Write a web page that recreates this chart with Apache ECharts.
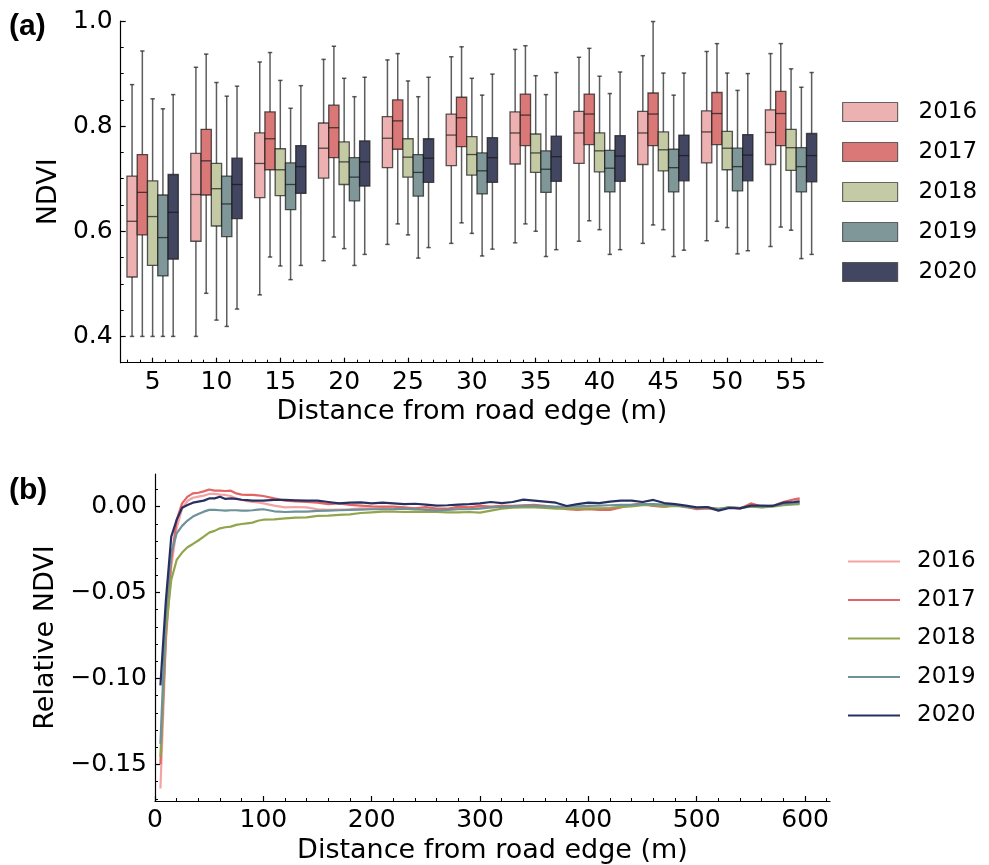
<!DOCTYPE html>
<html>
<head>
<meta charset="utf-8">
<script src="https://cdn.jsdelivr.net/npm/echarts@6.0.0/dist/echarts.min.js"></script>
<style>html,body{margin:0;padding:0;background:#fff;}#c{width:989px;height:865px;}</style>
</head>
<body>
<div id="c"></div>
<script>
// ---------- Panel (a) data ----------
const years = ['2016', '2017', '2018', '2019', '2020'];
const distCats = ['5', '10', '15', '20', '25', '30', '35', '40', '45', '50', '55'];
// each entry: [whisker low, Q1, median, Q3, whisker high]
const box2016 = [[0.40,0.513,0.619,0.705,0.879],[0.40,0.581,0.670,0.748,0.912],[0.479,0.664,0.729,0.787,0.922],[0.544,0.701,0.758,0.806,0.927],[0.575,0.721,0.777,0.818,0.926],[0.577,0.725,0.783,0.823,0.932],[0.578,0.728,0.787,0.827,0.946],[0.581,0.729,0.787,0.828,0.931],[0.577,0.727,0.787,0.828,0.934],[0.582,0.730,0.789,0.829,0.942],[0.571,0.727,0.788,0.831,0.938]];
const box2017 = [[0.40,0.593,0.674,0.746,0.943],[0.482,0.669,0.734,0.794,0.937],[0.551,0.717,0.776,0.827,0.940],[0.589,0.740,0.797,0.840,0.952],[0.614,0.756,0.810,0.850,0.938],[0.616,0.761,0.816,0.855,0.951],[0.614,0.763,0.821,0.861,0.953],[0.620,0.765,0.823,0.861,0.948],[0.612,0.763,0.823,0.863,0.999],[0.619,0.765,0.824,0.864,0.957],[0.608,0.763,0.824,0.866,0.957]];
const box2018 = [[0.40,0.535,0.628,0.696,0.852],[0.431,0.610,0.681,0.729,0.883],[0.534,0.668,0.717,0.757,0.887],[0.567,0.689,0.732,0.770,0.891],[0.593,0.703,0.741,0.776,0.886],[0.596,0.707,0.746,0.780,0.891],[0.600,0.712,0.749,0.785,0.896],[0.603,0.713,0.753,0.787,0.895],[0.603,0.715,0.755,0.789,0.901],[0.607,0.717,0.758,0.790,0.901],[0.602,0.716,0.759,0.794,0.909]];
const box2019 = [[0.40,0.515,0.588,0.669,0.833],[0.419,0.590,0.652,0.705,0.857],[0.508,0.641,0.689,0.730,0.834],[0.535,0.658,0.703,0.740,0.856],[0.549,0.667,0.712,0.746,0.856],[0.553,0.671,0.715,0.749,0.859],[0.552,0.674,0.718,0.753,0.860],[0.556,0.675,0.720,0.754,0.862],[0.552,0.675,0.721,0.756,0.859],[0.557,0.677,0.723,0.758,0.868],[0.548,0.675,0.723,0.759,0.874]];
const box2020 = [[0.40,0.547,0.636,0.708,0.860],[0.452,0.624,0.689,0.739,0.876],[0.535,0.672,0.723,0.763,0.877],[0.556,0.686,0.732,0.772,0.893],[0.569,0.693,0.739,0.776,0.893],[0.566,0.693,0.740,0.778,0.899],[0.565,0.695,0.742,0.781,0.902],[0.565,0.695,0.743,0.782,0.903],[0.564,0.696,0.744,0.783,0.901],[0.563,0.696,0.745,0.784,0.900],[0.556,0.694,0.744,0.786,0.902]];
const topYTicks = [0.4, 0.6, 0.8, 1.0];

// ---------- Panel (b) data ----------
const distances = [5,10,15,20,25,30,35,40,45,50,55,60,65,70,75,80,85,90,95,100,
  110,120,130,140,150,160,170,180,190,200,210,220,230,240,250,260,270,
  280,290,300,310,320,330,340,350,360,370,380,390,400,410,420,430,440,
  450,460,470,480,490,500,510,520,530,540,550,560,570,580,590,595];
const rel2016 = [-0.164,-0.079,-0.035,-0.0126,-0.001,0.0033,0.0052,0.0058,0.0064,0.0074,0.0074,0.007,0.0068,0.0062,0.0048,0.0039,0.0032,0.0028,0.0024,0.0019,
  0.0006,-0.0004,-0.0002,-0.0004,-0.0015,-0.0019,-0.0017,-0.0015,-0.001,-0.0012,-0.0008,-0.0012,-0.0015,-0.001,-0.0012,-0.0015,-0.0017,
  -0.001,-0.0008,0,-0.0004,0,0.0002,0.0004,0.0004,0,-0.0004,-0.0012,-0.001,-0.0008,-0.0012,-0.0008,0,0.0008,
  0.0015,0.0004,0,0.0008,-0.0004,-0.0012,-0.0008,-0.0015,-0.0004,-0.0008,0.0012,-0.0004,0.0004,0.0027,0.0039,0.0043];
const rel2017 = [-0.150,-0.076,-0.031,-0.0077,0.0019,0.0058,0.0077,0.0081,0.0089,0.0100,0.0093,0.0093,0.0091,0.0093,0.0077,0.007,0.0068,0.0068,0.0066,0.0062,
  0.0048,0.0035,0.0031,0.0027,0.0023,0.0015,0.0019,0.001,0.0006,0.0002,0,0,-0.0004,-0.001,-0.0002,-0.0012,-0.0012,
  0,-0.0004,0.0004,0,0.0004,0.0004,0.0008,0.001,0.0004,-0.0004,-0.0015,-0.0019,-0.0015,-0.0019,-0.0019,-0.0004,0.001,
  0.0019,0.0004,0,0.001,0,-0.0015,-0.001,-0.0019,-0.0004,-0.0012,0.0019,0,0.0004,0.0027,0.0043,0.0048];
const rel2018 = [-0.1456,-0.072,-0.0426,-0.031,-0.0267,-0.0236,-0.0217,-0.0197,-0.0174,-0.0151,-0.0141,-0.0126,-0.012,-0.0116,-0.0106,-0.0101,-0.0097,-0.0093,-0.0082,-0.0076,
  -0.0074,-0.0068,-0.0064,-0.0062,-0.0054,-0.0052,-0.0048,-0.0045,-0.0037,-0.0033,-0.0029,-0.0029,-0.0031,-0.0029,-0.0031,-0.0031,-0.0033,
  -0.0033,-0.0031,-0.0035,-0.0023,-0.0012,-0.0006,-0.0004,-0.0004,-0.0008,-0.0012,-0.0012,-0.0012,-0.0012,-0.001,-0.0008,-0.0002,0.0002,
  0.0008,0.0008,0,0.0004,0,-0.0008,-0.0006,-0.0012,-0.0004,-0.0008,0,-0.0004,0,0.0008,0.0013,0.0015];
const rel2019 = [-0.138,-0.062,-0.027,-0.0155,-0.0112,-0.0081,-0.0058,-0.0043,-0.0029,-0.0019,-0.0019,-0.0021,-0.0023,-0.0021,-0.0021,-0.0023,-0.0023,-0.0021,-0.0017,-0.0015,
  -0.0027,-0.0031,-0.0029,-0.0029,-0.0025,-0.0023,-0.0021,-0.0019,-0.0017,-0.0015,-0.0015,-0.0014,-0.0012,-0.0015,-0.0019,-0.0023,-0.0019,
  -0.0015,-0.0015,-0.0012,-0.0004,-0.0002,0.0002,0.0004,0.0004,0.0002,0,0,0.0002,0.0004,0.0006,0.0008,0.001,0.001,
  0.0015,0.0015,0.0012,0.0008,0,-0.0008,-0.0006,-0.0015,-0.0004,-0.0008,0.0004,0,0.0004,0.0015,0.0019,0.0023];
const rel2020 = [-0.104,-0.055,-0.0174,-0.0077,-0.0006,0.001,0.0023,0.0029,0.0035,0.0048,0.0048,0.0058,0.0045,0.0048,0.0045,0.004,0.0038,0.0035,0.0035,0.0035,
  0.0039,0.0039,0.0037,0.0035,0.0035,0.0027,0.0019,0.0023,0.0025,0.0019,0.0023,0.0019,0.0015,0.0017,0.0012,0.0006,0.0008,
  0.0012,0.0015,0.0019,0.0027,0.0021,0.0027,0.0041,0.0035,0.0029,0.0023,0.0004,0.0015,0.0023,0.0021,0.0029,0.0035,0.0035,
  0.0027,0.0039,0.0021,0.0015,0.0006,-0.0004,-0.0002,-0.0023,-0.0008,-0.001,0.0006,0.0006,0.0004,0.0023,0.0027,0.0031];
const bottomXTicks = [0, 100, 200, 300, 400, 500, 600];
const bottomYTicks = [-0.15, -0.10, -0.05, 0.00];

// ---------- styling ----------
const boxFill = ['#EDB1B1', '#DA7878', '#C3CAA4', '#7F9798', '#434661'];
const lineColor = ['#F3A3A3', '#E36464', '#91A64C', '#6D9299', '#283060'];
const FONT = 'DejaVu Sans';
const boxSets = [box2016, box2017, box2018, box2019, box2020];
const relSets = [rel2016, rel2017, rel2018, rel2019, rel2020];
// minor tick positions (1 m) on the top axis, 3..57
const minorCats = [];
for (let m = 3; m <= 57; m++) minorCats.push(String(m));

function boxRenderer(si) {
  return function (params, api) {
    const ci = api.value(0);
    const band = api.size([1, 0])[0];
    const w = band * 0.161;
    const cx = api.coord([ci, api.value(3)])[0] + (si - 2) * w;
    const yLo = api.coord([ci, api.value(1)])[1];
    const yQ1 = api.coord([ci, api.value(2)])[1];
    const yMd = api.coord([ci, api.value(3)])[1];
    const yQ3 = api.coord([ci, api.value(4)])[1];
    const yHi = api.coord([ci, api.value(5)])[1];
    const wk = {stroke: 'rgba(30,30,30,0.72)', lineWidth: 1.5};
    const bd = 'rgba(20,20,20,0.7)';
    const cap = 2.2;
    return {
      type: 'group',
      children: [
        {type: 'line', shape: {x1: cx, y1: yLo, x2: cx, y2: yQ1}, style: wk},
        {type: 'line', shape: {x1: cx, y1: yQ3, x2: cx, y2: yHi}, style: wk},
        {type: 'line', shape: {x1: cx - cap, y1: yLo, x2: cx + cap, y2: yLo}, style: wk},
        {type: 'line', shape: {x1: cx - cap, y1: yHi, x2: cx + cap, y2: yHi}, style: wk},
        {type: 'rect', shape: {x: cx - w / 2, y: yQ3, width: w, height: yQ1 - yQ3},
          style: {fill: boxFill[si], stroke: bd, lineWidth: 1.3}},
        {type: 'line', shape: {x1: cx - w / 2, y1: yMd, x2: cx + w / 2, y2: yMd},
          style: {stroke: bd, lineWidth: 1.3}}
      ]
    };
  };
}

const series = [];
years.forEach(function (y, si) {
  series.push({
    name: 'a' + y,
    type: 'custom',
    xAxisIndex: 0, yAxisIndex: 0,
    itemStyle: {color: boxFill[si]},
    renderItem: boxRenderer(si),
    encode: {x: 0, y: [1, 2, 3, 4, 5]},
    data: boxSets[si].map(function (b, i) { return [i].concat(b); }),
    z: 3
  });
});
years.forEach(function (y, si) {
  series.push({
    name: 'b' + y,
    type: 'line',
    xAxisIndex: 2, yAxisIndex: 1,
    symbol: 'none',
    color: lineColor[si],
    lineStyle: {width: 2.2, color: lineColor[si]},
    data: distances.map(function (d, i) { return [d, relSets[si][i]]; }),
    z: 3 + si
  });
});

const axisLine = {show: true, onZero: false, lineStyle: {color: '#000', width: 1.2}};
const fmtMinus = function (v) { return (v < -1e-9 ? '\u2212' : '') + Math.abs(v).toFixed(2); };

const option = {
  animation: false,
  backgroundColor: '#fff',
  textStyle: {fontFamily: FONT},
  grid: [
    {left: 120.7, top: 21, width: 702.3, height: 341.7},
    {left: 155, top: 474, width: 675, height: 327.7}
  ],
  xAxis: [
    {type: 'category', gridIndex: 0, position: 'bottom', data: distCats, boundaryGap: true,
      axisLine: axisLine,
      axisTick: {show: true, alignWithLabel: true, inside: true, length: 5, lineStyle: {color: '#000', width: 1.2}},
      axisLabel: {fontSize: 25, color: '#000', fontFamily: FONT, margin: 7},
      name: 'Distance from road edge (m)', nameLocation: 'middle', nameGap: 36,
      nameTextStyle: {fontSize: 27, color: '#000', fontFamily: FONT},
      splitLine: {show: false}},
    {type: 'category', gridIndex: 0, position: 'bottom', data: minorCats, boundaryGap: true,
      axisLine: {show: false, onZero: false},
      axisTick: {show: true, alignWithLabel: true, inside: true, length: 3, interval: 0, lineStyle: {color: '#000', width: 1}},
      axisLabel: {show: false}, splitLine: {show: false}},
    {type: 'value', gridIndex: 1, position: 'bottom', min: 0, max: 623, interval: 100,
      axisLine: axisLine,
      axisTick: {show: true, inside: true, length: 5, customValues: bottomXTicks, lineStyle: {color: '#000', width: 1.2}},
      minorTick: {show: true, splitNumber: 5, length: 3, lineStyle: {color: '#000', width: 1}},
      axisLabel: {fontSize: 25, color: '#000', fontFamily: FONT, margin: 7, customValues: bottomXTicks},
      name: 'Distance from road edge (m)', nameLocation: 'middle', nameGap: 36,
      nameTextStyle: {fontSize: 27, color: '#000', fontFamily: FONT},
      splitLine: {show: false}, minorSplitLine: {show: false}}
  ],
  yAxis: [
    {type: 'value', gridIndex: 0, min: 0.35, max: 1.0, splitNumber: 3,
      axisLine: axisLine,
      axisTick: {show: true, inside: true, length: 5, customValues: topYTicks, lineStyle: {color: '#000', width: 1.2}},
      minorTick: {show: true, splitNumber: 4, length: 3, lineStyle: {color: '#000', width: 1}},
      axisLabel: {fontSize: 25, color: '#000', fontFamily: FONT, margin: 8, customValues: topYTicks,
        formatter: function (v) { return v.toFixed(1); }},
      name: 'NDVI', nameLocation: 'middle', nameGap: 57,
      nameTextStyle: {fontSize: 27, color: '#000', fontFamily: FONT},
      splitLine: {show: false}, minorSplitLine: {show: false}},
    {type: 'value', gridIndex: 1, min: -0.1713, max: 0.019, splitNumber: 4,
      axisLine: axisLine,
      axisTick: {show: true, inside: true, length: 5, customValues: bottomYTicks, lineStyle: {color: '#000', width: 1.2}},
      minorTick: {show: true, splitNumber: 5, length: 3, lineStyle: {color: '#000', width: 1}},
      axisLabel: {fontSize: 25, color: '#000', fontFamily: FONT, margin: 8, customValues: bottomYTicks,
        formatter: fmtMinus},
      name: 'Relative NDVI', nameLocation: 'middle', nameGap: 94,
      nameTextStyle: {fontSize: 27, color: '#000', fontFamily: FONT},
      splitLine: {show: false}, minorSplitLine: {show: false}}
  ],
  legend: [
    {data: years.map(function (y) { return {name: 'a' + y, icon: 'rect'}; }),
      orient: 'vertical', left: 837, top: 95, itemWidth: 55, itemHeight: 19, itemGap: 16,
      itemStyle: {borderColor: 'rgba(60,60,60,0.75)', borderWidth: 1.2},
      formatter: function (n) { return n.slice(1); },
      textStyle: {fontSize: 23, color: '#000', fontFamily: FONT, lineHeight: 24, padding: [0, 0, 0, 16]},
      selectedMode: false},
    {data: years.map(function (y) { return {name: 'b' + y, icon: 'rect'}; }),
      orient: 'vertical', left: 843, top: 544.5, itemWidth: 52, itemHeight: 2.2, itemGap: 14.5,
      formatter: function (n) { return n.slice(1); },
      textStyle: {fontSize: 23, color: '#000', fontFamily: FONT, lineHeight: 24, padding: [0, 0, 0, 12]},
      selectedMode: false}
  ],
  graphic: [
    {type: 'text', left: 9, top: 12, style: {text: '(a)', font: 'bold 30px "Liberation Sans"', fill: '#000'}},
    {type: 'text', left: 9, top: 476, style: {text: '(b)', font: 'bold 30px "Liberation Sans"', fill: '#000'}}
  ],
  series: series
};

const chart = echarts.init(document.getElementById('c'), null, {renderer: 'canvas'});
chart.setOption(option);
</script>
</body>
</html>
